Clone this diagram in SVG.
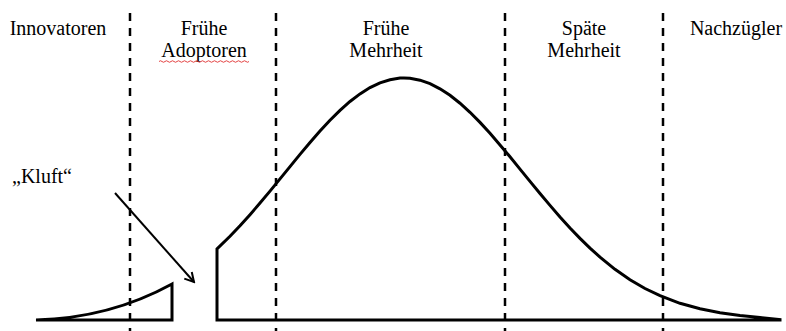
<svg xmlns="http://www.w3.org/2000/svg" width="786" height="331" viewBox="0 0 786 331">
<style>
.lbl{font-family:"Liberation Serif","Times New Roman",serif;font-size:20px;fill:#000;text-anchor:middle}
.dash{stroke:#000;stroke-width:2.5;stroke-dasharray:8 7;fill:none}
.shape{stroke:#000;stroke-width:3;fill:none;stroke-linejoin:miter}
</style>
<defs>
<marker id="arr" viewBox="0 0 12 12" refX="10" refY="6" markerWidth="12" markerHeight="12" markerUnits="userSpaceOnUse" orient="auto">
<path d="M1,1 L10,6 L1,11" fill="none" stroke="#000" stroke-width="2"/>
</marker>
</defs>
<rect width="786" height="331" fill="#fff"/>
<g id="dividers">
<line class="dash" x1="130" y1="13" x2="130" y2="331"/>
<line class="dash" x1="276" y1="13" x2="276" y2="331"/>
<line class="dash" x1="505" y1="13" x2="505" y2="331"/>
<line class="dash" x1="663" y1="13" x2="663" y2="331"/>
</g>
<g id="innovatoren"><text class="lbl" x="58" y="35">Innovatoren</text></g>
<g id="fruehe-adoptoren">
<text class="lbl" x="204" y="35">Frühe</text>
<text class="lbl" x="204" y="57">Adoptoren</text>
<path d="M159,61.5 q1.5,-1.5 3,0 t3,0 t3,0 t3,0 t3,0 t3,0 t3,0 t3,0 t3,0 t3,0 t3,0 t3,0 t3,0 t3,0 t3,0 t3,0 t3,0 t3,0 t3,0 t3,0 t3,0 t3,0 t3,0 t3,0 t3,0 t3,0 t3,0 t3,0 t3,0 t3,0" fill="none" stroke="#e03030" stroke-width="0.9"/>
</g>
<g id="fruehe-mehrheit">
<text class="lbl" x="386" y="35">Frühe</text>
<text class="lbl" x="386" y="57">Mehrheit</text>
</g>
<g id="spaete-mehrheit">
<text class="lbl" x="584" y="35">Späte</text>
<text class="lbl" x="584" y="57">Mehrheit</text>
</g>
<g id="nachzuegler"><text class="lbl" x="736" y="35">Nachzügler</text></g>
<g id="kluft"><text class="lbl" x="42" y="183">„Kluft“</text></g>
<g id="left-tail">
<path class="shape" d="M36,320 Q110,318 172,284 L172,320 Z"/>
</g>
<g id="bell-curve">
<path class="shape" d="M217,320 L217,249 L230,236.3 L240,225.8 L250,214.7 L260,203.1 L270,191.1 L280,178.9 L290,166.6 L300,154.4 L310,142.5 L320,131.1 L330,120.3 L340,110.4 L350,101.5 L360,93.9 L370,87.6 L380,82.8 L390,79.7 L400,78.1 L404,78 L410,78.3 L420,80.2 L430,83.7 L440,88.8 L450,95.3 L460,103.2 L470,112.3 L480,122.4 L490,133.3 L500,144.9 L510,156.8 L520,169.1 L530,181.4 L540,193.5 L550,205.4 L560,217 L570,228 L580,238.4 L590,248.1 L600,257.1 L615,269.3 L630,279.7 L645,288.5 L660,295.7 L680,303.3 L700,308.8 L720,312.7 L740,315.4 L760,317.5 L780,319.5 L780,320 Z" stroke-linejoin="round"/>
</g>
<g id="connectors">
<line x1="115" y1="193" x2="194" y2="282" stroke="#000" stroke-width="2" marker-end="url(#arr)"/>
</g>
</svg>
